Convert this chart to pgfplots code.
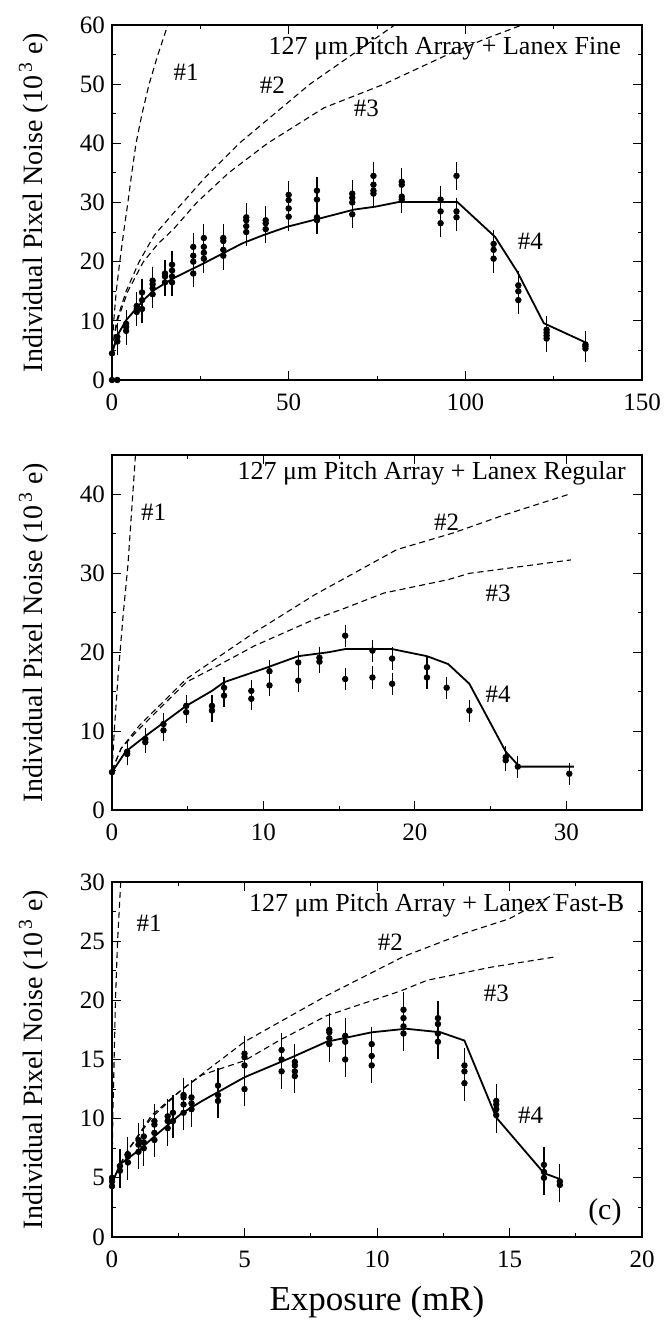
\documentclass[border=0pt]{standalone}
\usepackage{fontspec}
\setmainfont{Liberation Serif}
\usepackage{pgfplots}
\pgfplotsset{compat=1.18}

\tikzset{lbl/.style={font=\fontsize{12.5}{14}\selectfont}}
\pgfplotsset{
  panel/.style={
    scale only axis, width=265pt, height=177.5pt, clip=false,
    tick align=inside, minor tick num=1,
    major tick length=4.5pt, minor tick length=2.2pt,
    tick style={black, line width=0.5pt},
    axis line style={line width=0.7pt},
    ticklabel style={font=\fontsize{12.5}{14}\selectfont},
    xticklabel style={yshift=-3.5pt},
    /pgf/number format/assume math mode=true,
    ylabel={Individual Pixel Noise (10\textsuperscript{\,3} e)},
    ylabel style={font=\fontsize{14}{16}\selectfont, yshift=9pt},
  },
  theory/.style={black, line width=0.55pt, dash pattern=on 3pt off 2pt},
  fit/.style={black, line width=0.9pt},
  meas/.style={black, only marks, mark=*, mark size=1.4pt,
    error bars/.cd, y dir=both, y fixed=#1,
    error mark options={black, mark size=1.6pt, line width=0.6pt},
    error bar style={line width=0.6pt}},
}

\begin{document}
\begin{tikzpicture}
\path[use as bounding box] (-56pt,12.5pt) rectangle (277pt,-648pt);

% ---- (a) Lanex Fine
\begin{axis}[panel, at={(0,0)}, anchor=north west,
  xmin=0, xmax=150, ymin=0, ymax=60,
  xtick={0,50,100,150}, ytick={0,10,...,60}]
\addplot[theory] coordinates {(0,5) (0.5,10) (1.2,15) (2.2,20) (3.3,25) (4.5,30) (5.6,35) (6.8,40) (8.5,45) (10.5,50) (13,55) (15.8,60)};
\addplot[theory] coordinates {(0,5) (1.3,10) (4,15) (7.7,20) (12,24.5) (17.4,28.2) (26,34) (36,40) (46,45) (56,50) (68,55) (80,60)};
\addplot[theory] coordinates {(0,5) (1.5,10) (4.5,15) (8.9,20) (13,23) (17.4,25.5) (24,30) (33,35) (44,40) (60,46) (77,50) (95,55) (105,57.5) (116,60)};
\addplot[fit] coordinates {(0,4.5) (1.6,7.6) (4,10.1) (8.9,13.5) (11.9,15.2) (17.4,17.2) (25.9,19.7) (31.4,21.4) (36.9,23.1) (42.9,24.5) (49.6,25.9) (58.8,27.3) (68.5,28.8) (74.6,29.3) (81.3,30.1) (97.7,30.1) (108.4,24.2) (114.7,18.3) (122.2,9.6) (134.2,6.3)};
\addplot[meas=1.8] table {
x y
0 4.5
1.5 6.5
1.5 7.3
4 8.3
4 9.0
4 9.5
7 11.5
7 12.0
7 12.5
8.5 12.0
8.5 13.5
8.5 14.8
11.5 14.5
11.5 15.5
11.5 16.2
11.5 16.8
15 16.5
15 17.5
15 18.0
17 16.5
17 17.5
17 18.5
17 19.5
23 18.0
23 20.0
23 21.0
23 22.5
26 20.5
26 21.5
26 22.5
26 24.0
31.5 21.0
31.5 22.0
31.5 23.5
31.5 24.0
38 25.0
38 26.0
38 27.0
38 27.5
43.5 25.5
43.5 26.5
43.5 27.0
50 27.6
50 29.0
50 30.4
50 31.3
58 27.0
58 27.5
58 30.5
58 32.0
68 28.0
68 30.0
68 30.8
68 31.5
74 31.5
74 32.0
74 33.0
74 34.5
82 30.5
82 31.0
82 33.0
82 33.5
93 26.5
93 28.5
93 30.5
97.5 27.5
97.5 28.5
97.5 34.5
108 20.5
108 22.0
108 23.0
115 13.5
115 15.0
115 16.0
123 7.0
123 7.5
123 8.0
123 8.5
134 5.3
134 5.7
134 6.0
};
\addplot[black, only marks, mark=*, mark size=1.4pt] coordinates {(0,0) (1.5,0)};
\node[lbl] at (axis cs:21,52) {\#1};
\node[lbl] at (axis cs:45.4,49.9) {\#2};
\node[lbl] at (axis cs:72,45.9) {\#3};
\node[lbl] at (axis cs:118.4,23.4) {\#4};
\node[lbl, font=\fontsize{13}{15}\selectfont, anchor=east] at (axis cs:146,56) {127 μm Pitch Array + Lanex Fine};
\end{axis}

% ---- (b) Lanex Regular
\begin{axis}[panel, at={(0,-215pt)}, anchor=north west,
  xmin=0, xmax=35, ymin=0, ymax=45,
  xtick={0,10,20,30}, ytick={0,10,...,40}]
\addplot[theory] coordinates {(0,5) (0.15,10) (0.4,17) (0.75,25) (1.05,31) (1.3,38) (1.55,45)};
\addplot[theory] coordinates {(0,5) (0.6,7.8) (1.8,10.7) (4.9,16.6) (9.4,22.5) (13.4,27.3) (18.8,33) (22.5,35.1) (25.9,37.4) (30.3,40.1)};
\addplot[theory] coordinates {(0,5) (0.6,7.8) (1.8,10.3) (4.9,16.2) (6.6,17.9) (9.4,20.8) (13.4,24.2) (15.4,25.6) (17.95,27.5) (22.2,29.2) (23.6,30) (30.3,31.7)};
\addplot[fit] coordinates {(0,4.8) (0.9,7.4) (2.3,9.5) (4.9,13.2) (6.6,15.1) (7.4,16.2) (10,17.9) (12.3,19.5) (14.3,20) (15.4,20.4) (18.5,20.4) (20.8,19.5) (22.2,18.5) (23.6,16) (26,7.4) (26.9,5.5) (30.5,5.5)};
\addplot[meas=1.0] table {
x y
0 4.8
1 7.1
1 7.4
2.2 8.6
2.2 9.0
3.4 10.1
3.4 10.9
4.9 12.4
4.9 13.2
6.6 12.6
6.6 13.2
7.4 14.5
7.4 15.5
9.2 14.1
9.2 15.1
10.4 15.8
10.4 17.6
12.3 16.4
12.3 18.7
13.7 18.8
13.7 19.3
15.4 16.6
15.4 22.1
17.2 16.8
17.2 20.2
18.5 16.0
18.5 19.2
20.8 16.8
20.8 18.1
22.1 15.5
23.6 12.6
26 6.3
26 6.7
26.8 5.5
30.2 4.6
};
\node[lbl] at (axis cs:2.75,37.8) {\#1};
\node[lbl] at (axis cs:22.1,36.5) {\#2};
\node[lbl] at (axis cs:25.5,27.5) {\#3};
\node[lbl] at (axis cs:25.5,14.7) {\#4};
\node[lbl, font=\fontsize{13}{15}\selectfont, anchor=east] at (axis cs:34.4,42.7) {127 μm Pitch Array + Lanex Regular};
\end{axis}

% ---- (c) Lanex Fast-B
\begin{axis}[panel, at={(0,-428.5pt)}, anchor=north west,
  xmin=0, xmax=20, ymin=0, ymax=30,
  xtick={0,5,...,20}, ytick={0,5,...,30},
  xlabel={Exposure (mR)},
  xlabel style={font=\fontsize{17.5}{20}\selectfont, yshift=-2.5pt}]
\addplot[theory] coordinates {(0,5) (0.03,10) (0.08,15) (0.13,20) (0.21,25) (0.33,30)};
\addplot[theory] coordinates {(0,4.6) (0.5,7) (1.5,10.3) (2.6,12.4) (5,16.5) (8.1,20.4) (11,23.7) (13.2,25.6) (15,26.9) (16.7,29)};
\addplot[theory] coordinates {(0,4.6) (0.5,7) (1.5,10.1) (2.6,12.4) (3.4,13.7) (5,14.9) (6.3,16.6) (8.1,18.7) (10.9,20.8) (11.9,21.7) (14.3,22.8) (16.8,23.7)};
\addplot[fit] coordinates {(0,4.6) (0.33,6.2) (1,7.3) (1.6,8.5) (2.6,10.4) (3.4,11.5) (5,13.5) (6.8,15.2) (8.1,16.5) (9.8,17.3) (11.1,17.6) (12.4,17.3) (13.3,16.6) (14.5,10.1) (16.3,5.4) (16.9,4.9)};
\addplot[meas=1.2] table {
x y
0 4.3
0 4.7
0 5.0
0.3 5.6
0.3 6.0
0.6 6.3
0.6 6.8
0.6 7.0
1.0 7.2
1.0 7.8
1.0 8.2
1.2 7.5
1.2 8.0
1.2 8.5
1.6 8.2
1.6 8.8
1.6 9.5
1.6 9.8
2.1 9.2
2.1 9.8
2.1 10.2
2.3 9.8
2.3 10.5
2.7 10.5
2.7 11.2
2.7 11.8
2.7 12.0
3.0 10.8
3.0 11.3
3.0 11.8
4.0 11.5
4.0 12.0
4.0 12.8
5.0 12.5
5.0 14.5
5.0 15.2
5.0 15.5
6.4 14.0
6.4 15.0
6.4 15.8
6.9 13.6
6.9 14.0
6.9 14.5
6.9 14.8
8.2 16.3
8.2 16.8
8.2 17.3
8.2 17.5
8.8 15.0
8.8 16.5
8.8 17.0
9.8 14.5
9.8 15.3
9.8 16.3
11.0 17.2
11.0 17.8
11.0 18.5
11.0 19.2
12.3 16.5
12.3 17.2
12.3 18.0
12.3 18.5
13.3 13.0
13.3 14.0
13.3 14.5
14.5 10.3
14.5 10.8
14.5 11.2
14.5 11.5
16.3 5.0
16.3 5.5
16.3 6.1
16.9 4.4
16.9 4.7
};
\node[lbl] at (axis cs:1.4,26.5) {\#1};
\node[lbl] at (axis cs:10.5,24.9) {\#2};
\node[lbl] at (axis cs:14.5,20.6) {\#3};
\node[lbl] at (axis cs:15.8,10.3) {\#4};
\node[font=\fontsize{15}{17}\selectfont] at (axis cs:18.6,2.1) {(c)};
\node[lbl, font=\fontsize{13}{15}\selectfont, anchor=east] at (axis cs:19.6,28) {127 μm Pitch Array + Lanex Fast-B};
\end{axis}
\end{tikzpicture}
\end{document}
